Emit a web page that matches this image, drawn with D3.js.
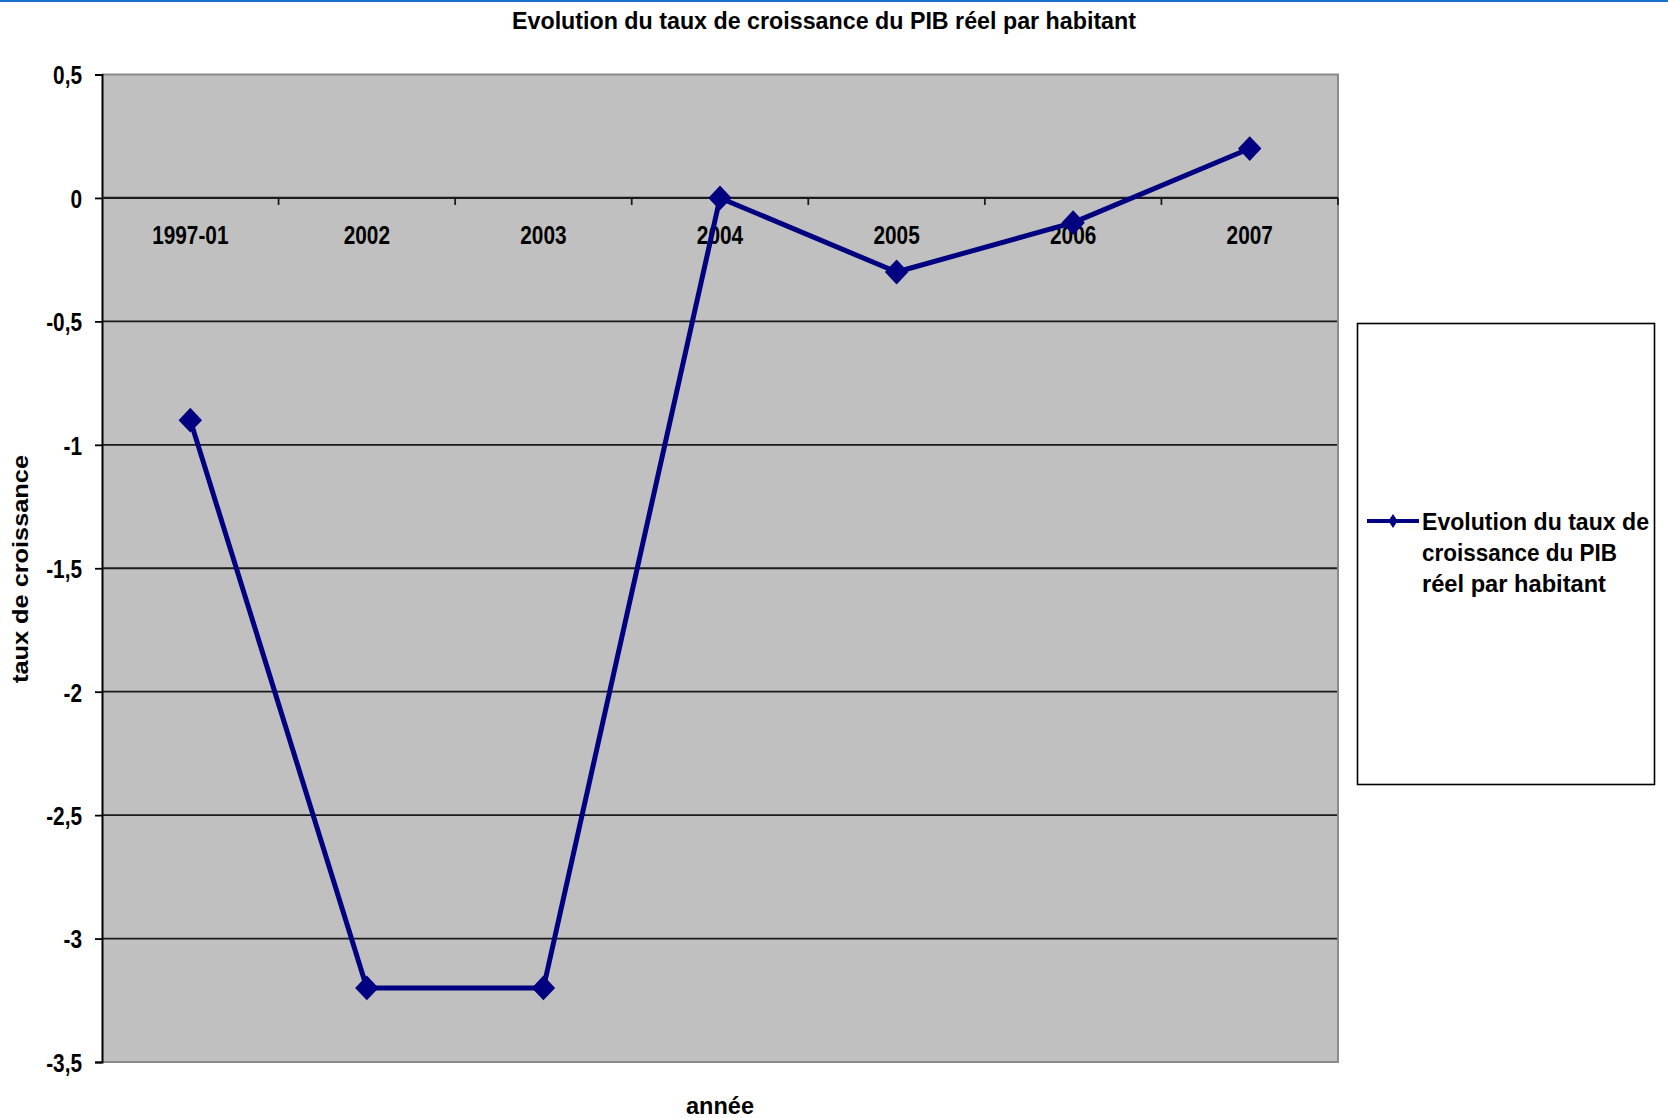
<!DOCTYPE html>
<html><head><meta charset="utf-8">
<script src="https://cdn.jsdelivr.net/npm/d3@7"></script>
<style>
html,body{margin:0;padding:0;background:#fff;}
svg{display:block;}
text{font-family:"Liberation Sans",Arial,sans-serif;font-weight:bold;fill:#000;}
</style></head>
<body>
<svg id="chart" width="1668" height="1118"></svg>
<script>
const categories = ["1997-01","2002","2003","2004","2005","2006","2007"];
const values = [-0.9,-3.2,-3.2,0,-0.3,-0.1,0.2];
const yTicks = [0.5,0,-0.5,-1,-1.5,-2,-2.5,-3,-3.5];
const seriesName = ["Evolution du taux de","croissance du PIB","réel par habitant"];
const title = "Evolution du taux de croissance du PIB réel par habitant";
const yTitle = "taux de croissance";
const xTitle = "année";

const svg = d3.select("#chart");
const L = 102, R = 1338, T = 74.5, B = 1062;

function condense(sel, ratio){
  sel.each(function(){
    const w = this.getComputedTextLength();
    d3.select(this).attr("textLength", w*ratio).attr("lengthAdjust","spacingAndGlyphs");
  });
}
function fitTo(sel, w){ sel.attr("textLength", w).attr("lengthAdjust","spacingAndGlyphs"); }

// top blue rule
svg.append("rect").attr("x",0).attr("y",0).attr("width",1668).attr("height",2).attr("fill","#1a6fc9");

const x = d3.scaleBand().domain(categories).range([L,R]);
const y = d3.scaleLinear().domain([-3.5,0.5]).range([B,T]);

// plot background
svg.append("rect").attr("x",L).attr("y",T).attr("width",R-L).attr("height",B-T).attr("fill","#c0c0c0");

// gridlines
svg.append("g").selectAll("line").data(yTicks.filter(d=>d!==0.5 && d!==-3.5)).join("line")
  .attr("x1",L).attr("x2",R).attr("y1",d=>y(d)).attr("y2",d=>y(d))
  .attr("stroke","#1a1a1a").attr("stroke-width",1.8);

// plot border top/right/bottom gray
svg.append("path").attr("d",`M${L},${T}H${R}V${B}H${L}`).attr("fill","none").attr("stroke","#8a8a8a").attr("stroke-width",2);

// y axis
const yAxis = d3.axisLeft(y).tickValues(yTicks).tickSize(7).tickPadding(13)
  .tickFormat(d=>String(d).replace(".",","));
const gy = svg.append("g").attr("transform",`translate(${L},0)`).call(yAxis);
gy.attr("font-family",null).attr("font-size",null);
gy.select(".domain").attr("stroke","#000").attr("stroke-width",2);
gy.selectAll(".tick line").attr("stroke","#000").attr("stroke-width",1.8);
gy.selectAll(".tick text").style("font-size","26px").attr("fill","#000").attr("dy","0.36em");
condense(gy.selectAll(".tick text"), 0.8);

// x axis at zero
const xAxis = d3.axisBottom(x).tickSize(0).tickPadding(0);
const gx = svg.append("g").attr("transform",`translate(0,${y(0)})`).call(xAxis);
gx.attr("font-family",null).attr("font-size",null);
gx.select(".domain").remove();
gx.selectAll(".tick text").style("font-size","26px").attr("fill","#000").attr("y",46).attr("dy",0);
condense(gx.selectAll(".tick text"), 0.8);
// zero line
svg.append("line").attr("x1",L).attr("x2",R).attr("y1",y(0)).attr("y2",y(0)).attr("stroke","#1a1a1a").attr("stroke-width",2.2);
// boundary ticks
const bounds = categories.slice(1).map(c=>x(c));
bounds.push(R);
svg.append("g").selectAll("line").data(bounds).join("line")
  .attr("x1",d=>d).attr("x2",d=>d).attr("y1",y(0)).attr("y2",y(0)+7)
  .attr("stroke","#1a1a1a").attr("stroke-width",1.8);

// line
const cx = c=>x(c)+x.bandwidth()/2;
const line = d3.line().x((d,i)=>cx(categories[i])).y(d=>y(d));
svg.append("path").datum(values).attr("d",line).attr("fill","none")
  .attr("stroke","#000080").attr("stroke-width",5).attr("stroke-linejoin","round");
const diamond = d3.symbol().type(d3.symbolDiamond2).size(350);
svg.append("g").selectAll("path").data(values).join("path")
  .attr("transform",(d,i)=>`translate(${cx(categories[i])},${y(d)}) scale(1,1.06)`)
  .attr("d",diamond).attr("fill","#000080");

// title
const tt = svg.append("text").attr("x",824).attr("y",29).attr("text-anchor","middle").style("font-size","23px").text(title);
fitTo(tt, 624);
// y title
const yt = svg.append("text").attr("transform",`translate(28,${569}) rotate(-90)`).attr("text-anchor","middle").style("font-size","22px").text(yTitle);
fitTo(yt, 228);
// x title
const xt = svg.append("text").attr("x",720).attr("y",1114).attr("text-anchor","middle").style("font-size","23px").text(xTitle);
fitTo(xt, 68);

// legend
svg.append("rect").attr("x",1357.5).attr("y",323.5).attr("width",297).attr("height",461)
  .attr("fill","#fff").attr("stroke","#000").attr("stroke-width",1.6);
svg.append("line").attr("x1",1367).attr("x2",1419).attr("y1",521).attr("y2",521).attr("stroke","#000080").attr("stroke-width",4);
svg.append("path").attr("transform","translate(1393,521) scale(0.7,1.05)").attr("d",d3.symbol().type(d3.symbolDiamond2).size(110)).attr("fill","#000080");
const legW = [227,195,184];
svg.append("g").selectAll("text").data(seriesName).join("text")
  .attr("x",1422).attr("y",(d,i)=>530+i*31).style("font-size","23px").text(d=>d)
  .attr("textLength",(d,i)=>legW[i]).attr("lengthAdjust","spacingAndGlyphs");
</script>
</body></html>
